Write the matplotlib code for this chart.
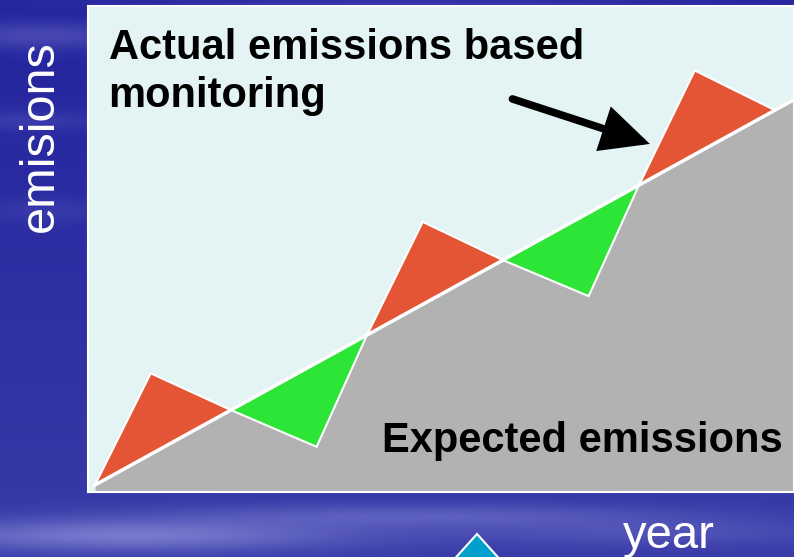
import matplotlib
matplotlib.use("Agg")
import matplotlib.pyplot as plt
import numpy as np

# Data: expected trend and actual (monitored) emissions zigzag
exp_years = [0.0, 5.3]
exp_vals = [0.0, 5.3]
act_years = [0.0, 0.41, 1.0, 1.63, 2.0, 2.41, 3.0, 3.63, 4.0, 4.41, 5.0]
act_vals = [0.0, 1.49, 1.0, 0.51, 2.0, 3.51, 3.0, 2.52, 4.0, 5.53, 5.0]

W, H = 794, 557
fig = plt.figure(figsize=(W / 100, H / 100), dpi=100)

# slide background: blue with soft horizontal streaks
bg = fig.add_axes([0, 0, 1, 1])
yy, xx = np.mgrid[0:H, 0:W]
base = np.zeros((H, W, 3))
t = yy / H
base[..., 0] = 0.14 + 0.08 * t
base[..., 1] = 0.14 + 0.09 * t
base[..., 2] = 0.62 + 0.04 * t
# streaks (x, y, half-width, half-height, strength)
streaks = [(40, 35, 110, 14, 0.22), (20, 120, 80, 10, 0.12), (50, 210, 70, 12, 0.08),
           (130, 535, 220, 16, 0.4), (420, 515, 260, 12, 0.22), (650, 532, 200, 14, 0.15),
           (400, 3, 300, 5, 0.12)]
for sx, sy, sw, sh, s in streaks:
    g = np.exp(-(((xx - sx) / sw) ** 2 + ((yy - sy) / sh) ** 2))
    base[..., 0] += s * g * 0.6
    base[..., 1] += s * g * 0.62
    base[..., 2] += s * g * 0.35
bg.imshow(np.clip(base, 0, 1), extent=[0, W, H, 0], aspect="auto")
bg.set_xlim(0, W)
bg.set_ylim(H, 0)
bg.axis("off")

# cyan shape peeking in at the bottom
bg.fill([477, 440, 514], [534, 575, 575], color="#019fcb", ec="white", lw=1.5, clip_on=True)

bg.text(40, 136, "emisions", rotation=90, color="white", fontsize=35,
        family="Liberation Sans", ha="center", va="center")
bg.text(669, 536, "year", color="white", fontsize=34,
        family="Liberation Sans", ha="center", va="center")

# chart panel
ax = fig.add_axes([88 / W, (H - 492) / H, (W - 88) / W, (492 - 6) / H])
ax.set_facecolor("#e4f3f3")
ax.set_xlim(-0.051, 5.14)
ax.set_ylim(-0.093, 6.39)
ax.set_xticks([])
ax.set_yticks([])
for sp in ax.spines.values():
    sp.set_color("white")
    sp.set_linewidth(1.5)

ax.fill_between(exp_years, exp_vals, -0.2, color="#b2b2b2", lw=0)

for i in range(0, len(act_years) - 2, 2):
    xs = act_years[i:i + 3]
    ys = act_vals[i:i + 3]
    above = ys[1] > xs[1]
    ax.fill(xs, ys, color="#e45536" if above else "#2de536", ec="white", lw=1.5)

ax.plot(exp_years, exp_vals, color="white", lw=2.5)

ax.text(0.1, 5.68, "Actual emissions based", fontsize=30, weight="bold",
        family="Liberation Sans", va="baseline")
ax.text(0.1, 5.04, "monitoring", fontsize=30, weight="bold",
        family="Liberation Sans", va="baseline")
ax.text(2.11, 0.44, "Expected emissions", fontsize=30, weight="bold",
        family="Liberation Sans", va="baseline")

ax.annotate("", xy=(4.08, 4.55), xytext=(3.07, 5.15),
            arrowprops=dict(arrowstyle="-|>,head_length=2.6,head_width=1.25",
                            color="black", lw=5.5, joinstyle="miter",
                            shrinkA=0, shrinkB=0))

fig.savefig("out.png", dpi=100)
